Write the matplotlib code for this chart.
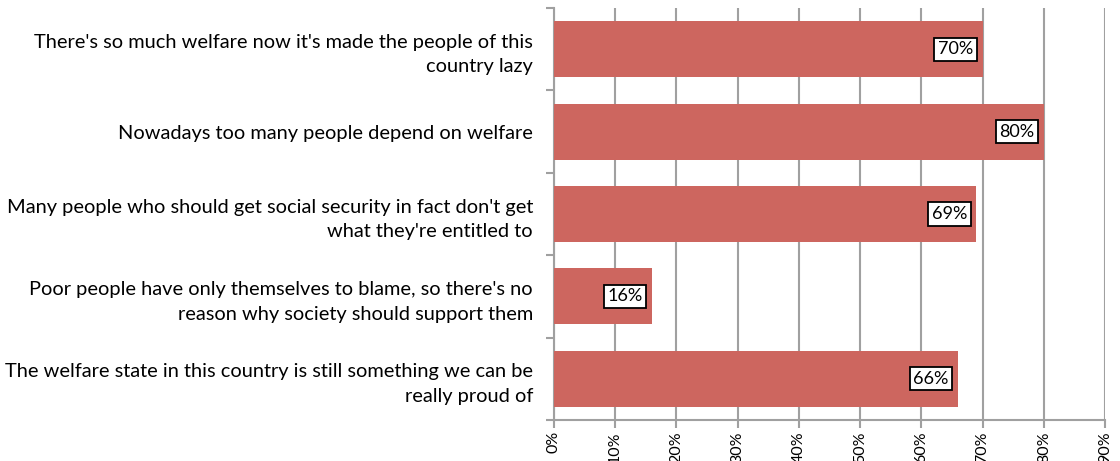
import matplotlib.pyplot as plt
import numpy as np

plt.rcParams['font.family'] = ['Lato', 'DejaVu Sans']

statements = [
    "There's so much welfare now it's made the people of this\ncountry lazy",
    "Nowadays too many people depend on welfare",
    "Many people who should get social security in fact don't get\nwhat they're entitled to",
    "Poor people have only themselves to blame, so there's no\nreason why society should support them",
    "The welfare state in this country is still something we can be\nreally proud of",
]
agree_pct = [70, 80, 69, 16, 66]
x_ticks = [0, 10, 20, 30, 40, 50, 60, 70, 80, 90]

bar_color = '#CD665F'
grid_color = '#A0A0A0'

fig = plt.figure(figsize=(11.2, 4.61), dpi=100)
ax = fig.add_axes([0.4946, 0.0889, 0.4920, 0.8937])

y = np.arange(len(statements))
ax.barh(y, agree_pct, height=0.68, color=bar_color, zorder=3)

for yi, v in zip(y, agree_pct):
    ax.text(v - 1.5, yi, f'{v}%', ha='right', va='center', fontsize=13,
            zorder=4,
            bbox=dict(boxstyle='square,pad=0.2', fc='white', ec='black', lw=1.3))

ax.set_xlim(0, 90)
ax.set_ylim(len(statements) - 0.5, -0.5)
ax.set_xticks(x_ticks)
ax.set_xticklabels([f'{t}%' for t in x_ticks], rotation=90, fontsize=11.5)
ax.xaxis.grid(True, color=grid_color, lw=1.5, zorder=0)

# category ticks sit on the band boundaries, labels at the centres
ax.set_yticks(np.arange(len(statements) + 1) - 0.5)
ax.set_yticklabels([])
ax.set_yticks(y, minor=True)
ax.set_yticklabels(statements, minor=True, fontsize=14.4, linespacing=1.55)
ax.tick_params(axis='y', which='minor', length=0, pad=15)
ax.tick_params(axis='y', which='major', length=6, width=1.5, color=grid_color)
ax.tick_params(axis='x', length=6, width=1.5, color=grid_color, pad=2)

for side in ['top', 'right']:
    ax.spines[side].set_visible(False)
for side in ['left', 'bottom']:
    ax.spines[side].set_color(grid_color)
    ax.spines[side].set_linewidth(1.5)

fig.savefig('out.png', dpi=100)
